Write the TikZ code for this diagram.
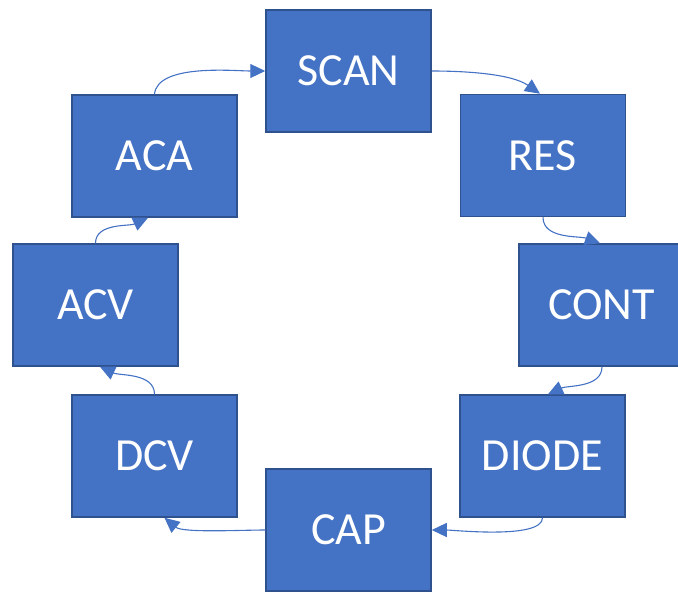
\documentclass[tikz,border=0pt]{standalone}
\usepackage{fontspec}
\setmainfont{Carlito}
\usetikzlibrary{arrows.meta}
\definecolor{boxfill}{HTML}{4472C4}
\definecolor{boxline}{HTML}{2F528F}
\definecolor{linkcol}{HTML}{4472C4}
\tikzset{
  modebox/.style={draw=boxline, line width=1.5pt, fill=boxfill, text=white,
    minimum width=165pt, minimum height=122pt, inner sep=0pt,
    font=\fontsize{46}{50}\selectfont},
  link/.style={draw=linkcol, line width=1.1pt,
    -{Triangle[length=15pt,width=14pt]}},
}
\begin{document}
\begin{tikzpicture}[x=1pt,y=-1pt]
\useasboundingbox (0,0) rectangle (678,592);
% mode boxes around the ring
\node[modebox] (scan)  at (348.5,71)  {SCAN};
\node[modebox] (res)   at (543,155.5) {RES};
\node[modebox] (cont)  at (601.5,305) {CONT};
\node[modebox] (diode) at (542.5,456) {DIODE};
\node[modebox] (cap)   at (348.5,530) {CAP};
\node[modebox] (dcv)   at (154.5,456) {DCV};
\node[modebox] (acv)   at (95.5,305)  {ACV};
\node[modebox] (aca)   at (154.5,156) {ACA};
% curved links going clockwise
\draw[link] (aca.north) to[out=85,in=180,looseness=0.7] (scan.west);
\draw[link] (scan.east) to[out=0,in=145,looseness=0.8] ([xshift=-3pt]res.north);
\draw[link] (res.south) to[out=-90,in=160,looseness=0.9] ([xshift=-1.5pt]cont.north);
\draw[link] ([xshift=0.5pt]cont.south) to[out=-90,in=25,looseness=0.9] ([xshift=5.5pt]diode.north);
\draw[link] (diode.south) to[out=-90,in=0,looseness=0.5] (cap.east);
\draw[link] (cap.west) to[out=180,in=-40,looseness=0.6] ([xshift=10pt]dcv.south);
\draw[link] (dcv.north) to[out=90,in=-25,looseness=0.9] ([xshift=4.5pt]acv.south);
\draw[link] (acv.north) to[out=90,in=205,looseness=0.9] ([xshift=-6.5pt]aca.south);
\end{tikzpicture}
\end{document}
